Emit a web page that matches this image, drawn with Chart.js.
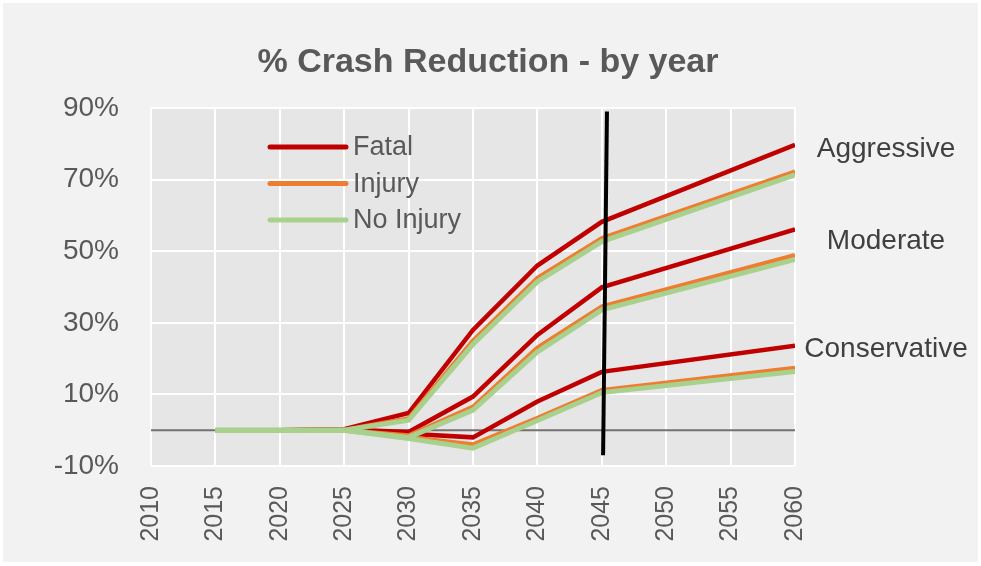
<!DOCTYPE html>
<html>
<head>
<meta charset="utf-8">
<title>% Crash Reduction - by year</title>
<script src="https://cdn.jsdelivr.net/npm/chart.js@4.4.1/dist/chart.umd.min.js"></script>
<style>
  html, body { margin: 0; padding: 0; background: #ffffff; }
  #wrap { width: 981px; height: 566px; }
</style>
</head>
<body>
<div id="wrap"><canvas id="crash-chart" width="981" height="566"></canvas></div>
<script>
// years with values (the lines run straight from 2045 to 2060)
const years = [2015, 2020, 2025, 2030, 2035, 2040, 2045, 2060];

const aggressiveFatal      = [0, 0, 0.3, 4.8, 28.0, 46.0, 58.2, 79.7];
const aggressiveInjury     = [0, 0, 0.1, 3.3, 25.0, 42.5, 53.6, 72.2];
const aggressiveNoInjury   = [0, 0, 0.0, 2.8, 24.0, 41.5, 52.7, 71.3];
const moderateFatal        = [0, 0, 0.2, -0.5, 9.4, 26.6, 39.9, 56.1];
const moderateInjury       = [0, 0, 0.0, -1.5, 6.5, 23.0, 34.5, 48.9];
const moderateNoInjury     = [0, 0, 0.0, -2.0, 5.6, 21.9, 33.6, 47.7];
const conservativeFatal    = [0, 0, 0.1, -1.0, -2.0, 8.0, 16.3, 23.6];
const conservativeInjury   = [0, 0, 0.0, -2.0, -4.0, 3.4, 11.2, 17.4];
const conservativeNoInjury = [0, 0, 0.0, -2.3, -5.0, 2.7, 10.5, 16.4];

// the black marker line near 2045
const markerYears  = [2045.4, 2045.1];
const markerValues = [89, -7];

const severityLabels = ["Fatal", "Injury", "No Injury"];
const scenarioLabels = ["Aggressive", "Moderate", "Conservative"];

const yTicks = [-10, 10, 30, 50, 70, 90];
const xTicks = [2010, 2015, 2020, 2025, 2030, 2035, 2040, 2045, 2050, 2055, 2060];

const titleText = "% Crash Reduction - by year";

const colors = { "Fatal": "#c00000", "Injury": "#ed7d31", "No Injury": "#a9d18e" };
const widths = { "Fatal": 4.5, "Injury": 4.5, "No Injury": 5 };
const drawOrder = { "Fatal": 3, "Injury": 2, "No Injury": 1 };

const fontFamily = "'Liberation Sans', Arial, sans-serif";
const textGrey = "#595959";

function pts(values, xs) {
  return values.map((v, i) => ({ x: (xs || years)[i], y: v }));
}

const seriesList = [
  ["Aggressive", "Fatal", aggressiveFatal],
  ["Aggressive", "Injury", aggressiveInjury],
  ["Aggressive", "No Injury", aggressiveNoInjury],
  ["Moderate", "Fatal", moderateFatal],
  ["Moderate", "Injury", moderateInjury],
  ["Moderate", "No Injury", moderateNoInjury],
  ["Conservative", "Fatal", conservativeFatal],
  ["Conservative", "Injury", conservativeInjury],
  ["Conservative", "No Injury", conservativeNoInjury],
];

const datasets = seriesList.map(([scen, sev, vals]) => ({
  label: scen + " " + sev,
  data: pts(vals),
  borderColor: colors[sev],
  backgroundColor: colors[sev],
  borderWidth: widths[sev],
  pointRadius: 0,
  tension: 0,
  order: drawOrder[sev],
}));

datasets.push({
  label: "2045",
  data: pts(markerValues, markerYears),
  borderColor: "#000000",
  borderWidth: 4,
  pointRadius: 0,
  order: 0,
  clip: false,
});

const decorations = {
  id: "decorations",
  beforeDraw(chart) {
    const { ctx, chartArea: a } = chart;
    ctx.save();
    ctx.fillStyle = "#ffffff";
    ctx.fillRect(0, 0, chart.width, chart.height);
    ctx.fillStyle = "#f2f2f2";
    ctx.fillRect(3, 3, chart.width - 6, chart.height - 7);
    ctx.fillStyle = "#e6e6e6";
    ctx.fillRect(a.left, a.top, a.right - a.left, a.bottom - a.top);
    ctx.restore();
  },
  beforeDatasetsDraw(chart) {
    // horizontal axis line at 0%
    const { ctx, chartArea: a, scales } = chart;
    const y0 = scales.y.getPixelForValue(0);
    ctx.save();
    ctx.strokeStyle = "#767171";
    ctx.lineWidth = 2;
    ctx.beginPath();
    ctx.moveTo(a.left, y0);
    ctx.lineTo(a.right, y0);
    ctx.stroke();
    ctx.restore();
  },
  afterDraw(chart) {
    const { ctx, chartArea: a } = chart;
    ctx.save();
    // title, centred on the whole picture
    ctx.font = "bold 34px " + fontFamily;
    ctx.textAlign = "center";
    ctx.textBaseline = "middle";
    ctx.fillStyle = textGrey;
    ctx.fillText(titleText, 488, 63);

    // legend inside the plot
    ctx.font = "27px " + fontFamily;
    ctx.textAlign = "left";
    ctx.lineCap = "round";
    severityLabels.forEach((s, i) => {
      const y = a.top + 39 + i * 36.5;
      ctx.strokeStyle = colors[s];
      ctx.lineWidth = 5;
      ctx.beginPath();
      ctx.moveTo(a.left + 119, y);
      ctx.lineTo(a.left + 195, y);
      ctx.stroke();
      ctx.fillStyle = textGrey;
      ctx.fillText(s, a.left + 202, y + 1);
    });

    // scenario names on the right
    ctx.font = "28px " + fontFamily;
    ctx.textAlign = "center";
    ctx.fillStyle = "#404040";
    const offsets = [41, 133, 241];
    scenarioLabels.forEach((s, i) => {
      ctx.fillText(s, a.right + 91, a.top + offsets[i]);
    });
    ctx.restore();
  },
};

new Chart(document.getElementById("crash-chart"), {
  type: "line",
  data: { datasets: datasets },
  plugins: [decorations],
  options: {
    responsive: false,
    animation: false,
    devicePixelRatio: 1,
    layout: { padding: { top: 108, right: 186, bottom: 0, left: 0 } },
    scales: {
      x: {
        type: "linear",
        min: 2010,
        max: 2060,
        afterBuildTicks(scale) { scale.ticks = xTicks.map(v => ({ value: v })); },
        afterFit(scale) { scale.height = 100; },
        grid: { color: "#ffffff", lineWidth: 2, drawTicks: false },
        border: { display: false },
        ticks: {
          autoSkip: false,
          minRotation: 90,
          maxRotation: 90,
          padding: 20,
          color: textGrey,
          font: { family: fontFamily, size: 25 },
          callback: (v) => String(v),
        },
      },
      y: {
        min: -10,
        max: 90,
        afterBuildTicks(scale) { scale.ticks = yTicks.map(v => ({ value: v })); },
        afterFit(scale) { scale.width = 151; },
        grid: { color: "#ffffff", lineWidth: 2, drawTicks: false },
        border: { display: false },
        ticks: {
          padding: 32,
          color: textGrey,
          font: { family: fontFamily, size: 28 },
          callback: (v) => v + "%",
        },
      },
    },
    plugins: {
      legend: { display: false },
      tooltip: { enabled: false },
      title: { display: false },
    },
  },
});
</script>
</body>
</html>
